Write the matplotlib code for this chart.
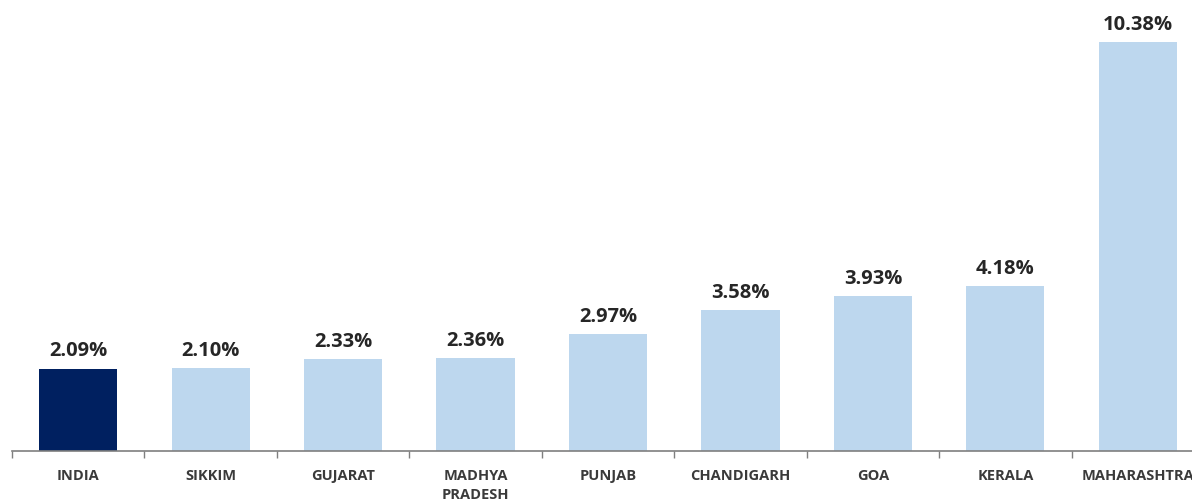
import matplotlib
matplotlib.use("Agg")
import matplotlib.pyplot as plt

categories = ["INDIA", "SIKKIM", "GUJARAT", "MADHYA\nPRADESH", "PUNJAB",
              "CHANDIGARH", "GOA", "KERALA", "MAHARASHTRA"]
values = [2.09, 2.10, 2.33, 2.36, 2.97, 3.58, 3.93, 4.18, 10.38]
value_labels = ["2.09%", "2.10%", "2.33%", "2.36%", "2.97%", "3.58%", "3.93%", "4.18%", "10.38%"]

colors = ["#002060"] + ["#bdd7ee"] * (len(values) - 1)

plt.rcParams["font.family"] = ["Open Sans", "DejaVu Sans"]

fig = plt.figure(figsize=(11.92, 5.02), dpi=100)
W, H = 1192, 502
ax = fig.add_axes([12 / W, 50 / H, 1192 / W, 452 / H])

x = list(range(len(categories)))
ax.bar(x, values, width=0.59, color=colors, zorder=2)
ax.set_xlim(-0.5, len(categories) - 0.5)
ax.set_ylim(0, 452 / 39.4)

for xi, v, lab in zip(x, values, value_labels):
    ax.annotate(lab, (xi, v), xytext=(0, 6), textcoords="offset points",
                ha="center", va="bottom", fontsize=14.5, fontweight="bold",
                color="#262626")

for s in ["top", "right", "left"]:
    ax.spines[s].set_visible(False)
ax.spines["bottom"].set_color("#7f7f7f")
ax.spines["bottom"].set_linewidth(1.2)
ax.set_yticks([])

ax.set_xticks([i - 0.5 for i in range(len(categories) + 1)], minor=False)
ax.set_xticklabels([])
ax.tick_params(axis="x", which="major", length=5, width=1, color="#7f7f7f", direction="out")
ax.set_xticks(x, minor=True)
ax.set_xticklabels(categories, minor=True, fontsize=10.5, fontweight="bold",
                   color="#3a3a3a", linespacing=1.5, va="top")
ax.tick_params(axis="x", which="minor", length=0, pad=12)

fig.savefig("out.png", dpi=100)
